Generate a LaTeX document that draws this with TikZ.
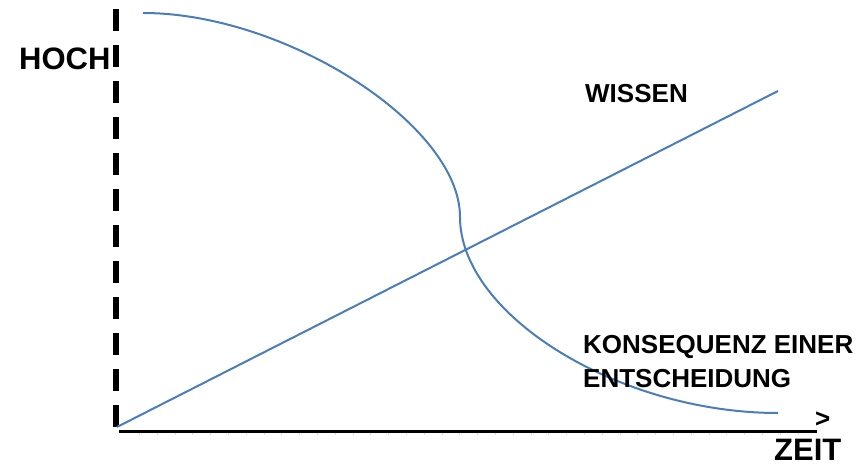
\documentclass[tikz,border=0pt]{standalone}
\usepackage{fontspec}
\setmainfont{Liberation Sans}
\definecolor{curveblue}{RGB}{74,126,187}
\begin{document}
\begin{tikzpicture}[x=1pt,y=-1pt,
  lblbig/.style={inner sep=0pt,anchor=base west,font=\bfseries\fontsize{31}{36}\selectfont},
  lblsmall/.style={inner sep=0pt,anchor=base west,font=\bfseries\fontsize{26}{35}\selectfont},
  bluecurve/.style={draw=curveblue,line width=2pt},
  yaxis/.style={draw=black,line width=6pt,dash pattern=on 22pt off 14pt},
  xaxis/.style={draw=black,line width=3pt},
  tickmark/.style={draw=black!15,line width=0.6pt}]
\useasboundingbox (0,0) rectangle (863,465);
% coordinates
\coordinate (ytop) at (116,9);
\coordinate (ybot) at (116,427);
\coordinate (origin) at (117,427);
\coordinate (xstart) at (119,431);
\coordinate (xend) at (817,431);
\coordinate (wend) at (778,91);
\coordinate (cstart) at (143,13);
\coordinate (cmid) at (460,217);
\coordinate (cend) at (778,413);
% axes
\draw[yaxis] (ytop) -- (ybot);
\draw[xaxis] (xstart) -- (xend);
\foreach \i in {0,...,37} {
  \draw[tickmark] ({139.3+17.8*\i},432.5) -- ++(0,2.5);
}
% WISSEN line
\draw[bluecurve] (origin) -- (wend);
% Konsequenz curve
\draw[bluecurve] (cstart) .. controls (285.7,13) and (460,125.2) .. (cmid)
  .. controls (460,315) and (619,413) .. (cend);
% labels
\node[lblbig] (hoch) at (19,70) {HOCH};
\node[lblsmall] (wissen) at (585,103) {WISSEN};
\node[lblsmall] (kons) at (583,353) {KONSEQUENZ EINER};
\node[lblsmall] (ents) at (583,388) {ENTSCHEIDUNG};
\node[lblsmall] (arrowlbl) at (815,428) {>};
\node[lblbig] (zeit) at (774,460) {ZEIT};
\end{tikzpicture}
\end{document}
